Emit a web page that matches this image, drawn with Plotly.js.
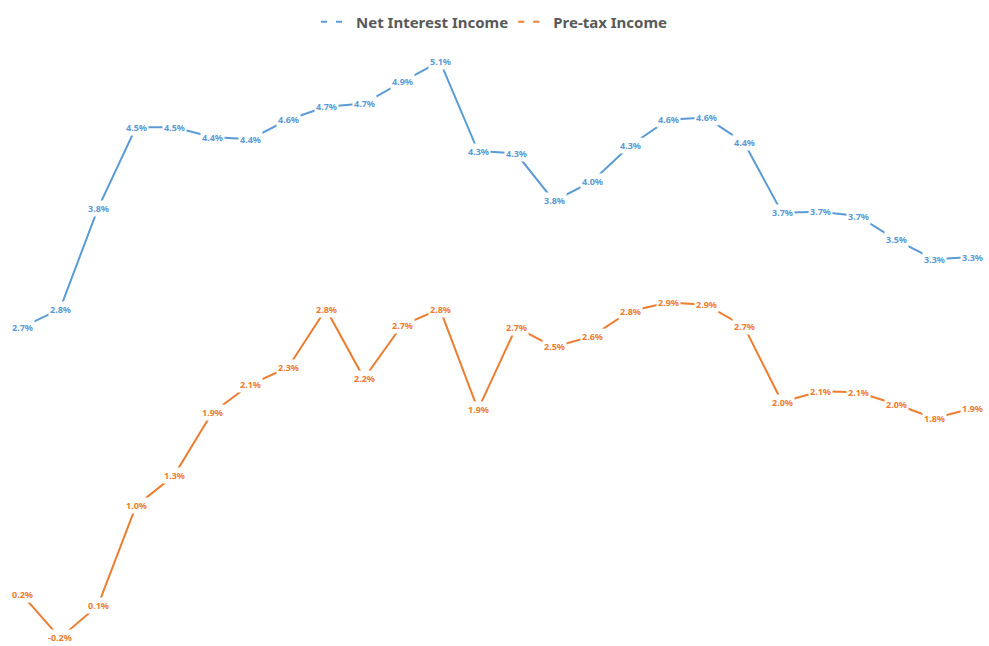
<!DOCTYPE html>
<html>
<head>
<meta charset="utf-8">
<script src="https://cdn.plot.ly/plotly-3.0.1.min.js"></script>
<style>html,body{margin:0;padding:0;background:#fff;}#chart{width:989px;height:646px;}</style>
</head>
<body>
<div id="chart"></div>
<script>
const periods = Array.from({length: 26}, (_, i) => i);
const netInterestIncome = [2.67, 2.84, 3.77, 4.52, 4.52, 4.43, 4.41, 4.59, 4.71, 4.74, 4.94, 5.13, 4.30, 4.28, 3.84, 4.02, 4.35, 4.59, 4.61, 4.38, 3.73, 3.74, 3.70, 3.48, 3.30, 3.32];
const pretaxIncome = [0.20, -0.20, 0.10, 1.02, 1.30, 1.88, 2.14, 2.30, 2.84, 2.20, 2.69, 2.84, 1.91, 2.67, 2.49, 2.59, 2.82, 2.90, 2.88, 2.68, 1.98, 2.08, 2.07, 1.96, 1.83, 1.92];
const seriesNames = ['Net Interest Income', 'Pre-tax Income'];
const colors = ['#5B9BD5', '#ED7D31'];

const series = [netInterestIncome, pretaxIncome];
const traces = [];
series.forEach((vals, s) => {
  traces.push({x: periods, y: vals, mode: 'lines', line: {color: colors[s], width: 2}, showlegend: false, hoverinfo: 'skip'});
});
series.forEach((vals, s) => {
  traces.push({x: [null], y: [null], mode: 'lines', name: seriesNames[s], line: {color: colors[s], width: 2, dash: '6px,9px'}, showlegend: true});
});

const annotations = [];
series.forEach((vals, s) => {
  vals.forEach((v, i) => {
    annotations.push({x: periods[i], y: v, text: '<b>' + v.toFixed(1) + '%</b>', showarrow: false,
      xanchor: 'center', yanchor: 'middle', bgcolor: '#ffffff', borderpad: 1,
      font: {family: 'Noto Sans, sans-serif', size: 9, color: colors[s]}});
  });
});

const layout = {
  width: 989, height: 646,
  margin: {l: 0, r: 0, t: 0, b: 0},
  paper_bgcolor: '#ffffff', plot_bgcolor: '#ffffff',
  xaxis: {range: [-0.579, 25.447], visible: false, fixedrange: true},
  yaxis: {range: [-0.275, 5.697], visible: false, fixedrange: true},
  showlegend: true,
  legend: {orientation: 'h', x: 0.5, xanchor: 'center', y: 0.966, yanchor: 'middle',
    font: {family: 'Noto Sans, sans-serif', size: 15, color: '#595959', weight: 'bold'},
    itemwidth: 30, tracegroupgap: 0},
  annotations: annotations
};
Plotly.newPlot('chart', traces, layout, {displayModeBar: false, staticPlot: true});
</script>
</body>
</html>
